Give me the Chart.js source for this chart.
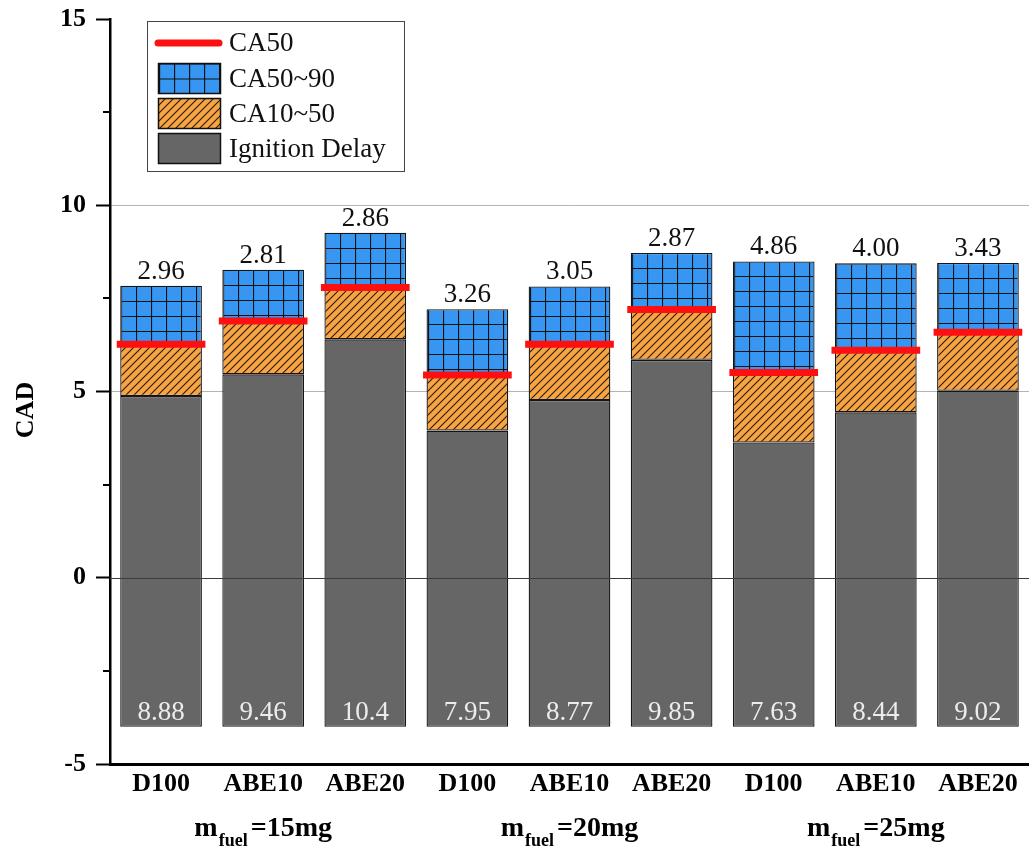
<!DOCTYPE html>
<html>
<head>
<meta charset="utf-8">
<script src="https://cdn.jsdelivr.net/npm/chart.js@4/dist/chart.umd.min.js"></script>
<style>
  html, body { margin: 0; padding: 0; background: #fff; }
  #wrap { width: 1029px; height: 852px; position: relative; }
</style>
</head>
<body>
<div id="wrap"><canvas id="c" width="1029" height="852"></canvas></div>
<script>
// ---- data ----
const categories = ['D100', 'ABE10', 'ABE20', 'D100', 'ABE10', 'ABE20', 'D100', 'ABE10', 'ABE20'];
const groupLabels = ['=15mg', '=20mg', '=25mg'];
const ignitionDelay = [8.88, 9.46, 10.4, 7.95, 8.77, 9.85, 7.63, 8.44, 9.02];
const ca10to50 = [1.39, 1.43, 1.39, 1.49, 1.50, 1.35, 1.88, 1.67, 1.57];
const ca10to90 = [2.96, 2.81, 2.86, 3.26, 3.05, 2.87, 4.86, 4.00, 3.43];
const yTicks = [-5, 0, 5, 10, 15];
const yMinorTicks = [-2.5, 2.5, 7.5, 12.5];
const barBase = -4;
const legendNames = ['CA50', 'CA50~90', 'CA10~50', 'Ignition Delay'];

// derived bounds
const idTop = ignitionDelay.map(v => barBase + v);
const ca50 = idTop.map((v, i) => v + ca10to50[i]);
const ca90 = idTop.map((v, i) => v + ca10to90[i]);

const BLUE = '#3796f2', ORANGE = '#f6a444', GREY = '#666666', RED = '#ff1010';
const SERIF = '"Liberation Serif", "Times New Roman", serif';
const BAR_PCT = 0.8;

// pattern tiles
function makeTile(size, bg, drawFn) {
  const t = document.createElement('canvas');
  t.width = size; t.height = size;
  const g = t.getContext('2d');
  g.fillStyle = bg; g.fillRect(0, 0, size, size);
  drawFn(g, size);
  return t;
}
const gridTile = makeTile(15, BLUE, (g, s) => {
  g.strokeStyle = '#111'; g.lineWidth = 1.2;
  g.beginPath(); g.moveTo(0.5, 0); g.lineTo(0.5, s); g.moveTo(0, 0.5); g.lineTo(s, 0.5); g.stroke();
});
const hatchTile = makeTile(8, ORANGE, (g, s) => {
  g.strokeStyle = '#2a1a08'; g.lineWidth = 1.1;
  g.beginPath();
  g.moveTo(-1, s + 1); g.lineTo(s + 1, -1);
  g.moveTo(-2, 2); g.lineTo(2, -2);
  g.moveTo(s - 2, s + 2); g.lineTo(s + 2, s - 2);
  g.stroke();
});

function barPattern(tile, fallback) {
  return (ctx) => {
    const c = ctx.chart;
    if (ctx.type !== 'data' || !c.chartArea || !c.scales.x || !c.scales.y) return fallback;
    const xs = c.scales.x, ys = c.scales.y;
    const bw = xs.width / categories.length * BAR_PCT;
    const left = xs.getPixelForValue(ctx.dataIndex) - bw / 2;
    const top = ys.getPixelForValue(ctx.raw[1]);
    const p = c.ctx.createPattern(tile, 'repeat');
    p.setTransform(new DOMMatrix([1, 0, 0, 1, Math.round(left) + 1, Math.round(top)]));
    return p;
  };
}

function noPad(s) { s.paddingTop = 0; s.paddingBottom = 0; s.paddingLeft = 0; s.paddingRight = 0; }

const overlay = {
  id: 'overlay',
  afterDatasetsDraw(chart) {
    const { ctx, chartArea: ca, scales: { x, y } } = chart;
    ctx.save();
    // zero line over bars
    const y0 = Math.round(y.getPixelForValue(0)) + 0.5;
    ctx.strokeStyle = '#3c3c3c'; ctx.lineWidth = 1.2;
    ctx.beginPath(); ctx.moveTo(ca.left, y0); ctx.lineTo(ca.right, y0); ctx.stroke();

    // CA10-90 labels above bars
    ctx.font = '27px ' + SERIF;
    ctx.textAlign = 'center'; ctx.textBaseline = 'alphabetic';
    ctx.fillStyle = '#111';
    ca10to90.forEach((v, i) => {
      ctx.fillText(v.toFixed(2), x.getPixelForValue(i), y.getPixelForValue(ca90[i]) - 7);
    });
    // ignition delay labels inside bars
    ctx.fillStyle = '#ececec';
    ignitionDelay.forEach((v, i) => {
      const s = (v >= 10) ? v.toFixed(1) : v.toFixed(2);
      ctx.fillText(s, x.getPixelForValue(i), y.getPixelForValue(barBase) - 7);
    });
    ctx.restore();
  },
  afterDraw(chart) {
    const { ctx, chartArea: ca, scales: { x, y } } = chart;
    ctx.save();
    // minor ticks
    ctx.strokeStyle = '#000'; ctx.lineWidth = 2;
    yMinorTicks.forEach(v => {
      const py = Math.round(y.getPixelForValue(v));
      ctx.beginPath(); ctx.moveTo(ca.left - 7, py); ctx.lineTo(ca.left, py); ctx.stroke();
    });
    // y title
    ctx.save();
    ctx.translate(26, 410);
    ctx.rotate(-Math.PI / 2);
    ctx.font = 'bold 26px ' + SERIF;
    ctx.fillStyle = '#000'; ctx.textAlign = 'center'; ctx.textBaseline = 'middle';
    ctx.fillText('CAD', 0, 0);
    ctx.restore();

    // group labels m_fuel=..
    groupLabels.forEach((g, gi) => {
      const cx = x.getPixelForValue(gi * 3 + 1);
      const fMain = 'bold 28px ' + SERIF, fSub = 'bold 18px ' + SERIF;
      ctx.font = fMain; const w1 = ctx.measureText('m').width; const w3 = ctx.measureText(g).width;
      ctx.font = fSub; const w2 = ctx.measureText('fuel').width;
      const total = w1 + w2 + w3 + 4;
      let sx = cx - total / 2;
      ctx.fillStyle = '#000'; ctx.textAlign = 'left'; ctx.textBaseline = 'alphabetic';
      ctx.font = fMain; ctx.fillText('m', sx, 836); sx += w1 + 1;
      ctx.font = fSub; ctx.fillText('fuel', sx, 846); sx += w2 + 3;
      ctx.font = fMain; ctx.fillText(g, sx, 836);
    });

    // legend
    const L = 147.5, T = 21.5, W = 257, H = 150;
    ctx.fillStyle = '#fff'; ctx.fillRect(L, T, W, H);
    ctx.strokeStyle = '#444'; ctx.lineWidth = 1; ctx.strokeRect(L, T, W, H);
    const rows = [43, 79, 114, 149];
    // CA50 line
    ctx.strokeStyle = RED; ctx.lineWidth = 7; ctx.lineCap = 'round';
    ctx.beginPath(); ctx.moveTo(158, rows[0]); ctx.lineTo(219, rows[0]); ctx.stroke();
    ctx.lineCap = 'butt';
    const boxes = [[gridTile, 1], [hatchTile, 2], [null, 3]];
    boxes.forEach(([tile, r]) => {
      const bx = 158.5, by = rows[r] - 15.5, bw = 62, bh = 30;
      ctx.fillStyle = tile ? ctx.createPattern(tile, 'repeat') : GREY;
      if (tile === gridTile) {
        ctx.fillStyle.setTransform(new DOMMatrix([1, 0, 0, 1, bx + 0.5, by]));
      }
      ctx.fillRect(bx, by, bw, bh);
      ctx.strokeStyle = '#111'; ctx.lineWidth = 1.5; ctx.strokeRect(bx, by, bw, bh);
    });
    ctx.font = '27px ' + SERIF; ctx.fillStyle = '#111';
    ctx.textAlign = 'left'; ctx.textBaseline = 'middle';
    legendNames.forEach((n, i) => ctx.fillText(n, 229, rows[i] + 1));
    ctx.restore();
  }
};

new Chart(document.getElementById('c'), {
  data: {
    labels: categories,
    datasets: [
      {
        type: 'line', label: legendNames[0], data: ca50, order: 0,
        showLine: false, pointStyle: 'line',
        pointRadius: (ctx) => ctx.chart.chartArea ? ctx.chart.scales.x.width / categories.length * BAR_PCT / 2 + 3.5 : 44,
        pointHoverRadius: (ctx) => ctx.chart.chartArea ? ctx.chart.scales.x.width / categories.length * BAR_PCT / 2 + 3.5 : 44,
        pointBorderWidth: 7, pointHoverBorderWidth: 7,
        pointBorderColor: RED, pointBackgroundColor: RED, borderColor: RED,
        clip: false
      },
      {
        type: 'bar', label: legendNames[1], order: 1,
        data: idTop.map((v, i) => [ca50[i], ca90[i]]),
        backgroundColor: barPattern(gridTile, BLUE)
      },
      {
        type: 'bar', label: legendNames[2], order: 2,
        data: idTop.map((v, i) => [v, ca50[i]]),
        backgroundColor: barPattern(hatchTile, ORANGE)
      },
      {
        type: 'bar', label: legendNames[3], order: 3,
        data: idTop.map(v => [barBase, v]),
        backgroundColor: GREY
      }
    ]
  },
  options: {
    responsive: false,
    animation: false,
    events: [],
    layout: { autoPadding: false, padding: { top: 19, left: 0, right: 0, bottom: 0 } },
    datasets: {
      bar: {
        grouped: false, barPercentage: BAR_PCT, categoryPercentage: 1,
        borderColor: '#151515', borderWidth: 1.3, borderSkipped: false
      }
    },
    plugins: { legend: { display: false }, tooltip: { enabled: false }, title: { display: false } },
    scales: {
      x: {
        type: 'category',
        offset: true,
        grid: { display: false },
        border: { display: true, color: '#000', width: 3 },
        ticks: { color: '#000', font: { family: SERIF, size: 26, weight: 'bold' }, padding: -3, maxRotation: 0, autoSkip: false },
        afterFit: (s) => { s.height = 88; noPad(s); }
      },
      y: {
        min: yTicks[0], max: yTicks[yTicks.length - 1],
        afterBuildTicks: (s) => { s.ticks = yTicks.map(v => ({ value: v })); },
        grid: {
          color: (c) => (c.tick && (c.tick.value === 5 || c.tick.value === 10)) ? '#b4b4b4' : 'rgba(0,0,0,0)',
          lineWidth: 1, drawTicks: true, tickLength: 14, tickColor: '#000', tickWidth: 2
        },
        border: { display: true, color: '#000', width: 2.5 },
        ticks: { color: '#000', font: { family: SERIF, size: 26, weight: 'bold' }, padding: 10 },
        afterFit: (s) => { s.width = 110; noPad(s); }
      }
    }
  },
  plugins: [overlay]
});
</script>
</body>
</html>
